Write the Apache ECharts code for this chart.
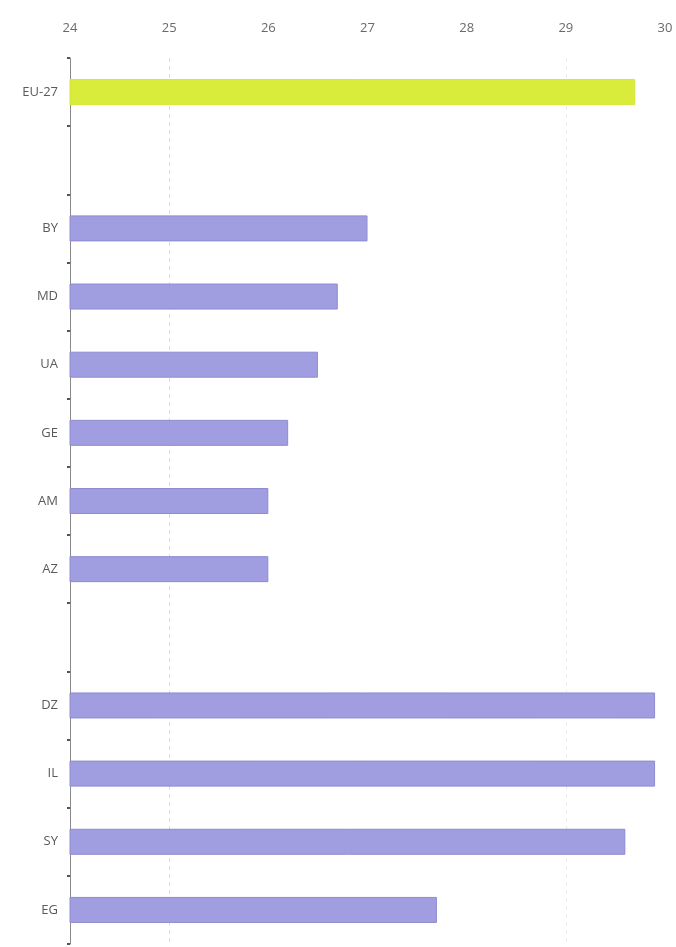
<!DOCTYPE html>
<html>
<head>
<meta charset="utf-8">
<script src="https://cdn.jsdelivr.net/npm/echarts@6/dist/echarts.min.js"></script>
<style>
html,body{margin:0;padding:0;background:#fff;}
#chart{width:676px;height:947px;}
</style>
</head>
<body>
<div id="chart"></div>
<script>
var categories = ['EU-27', '', 'BY', 'MD', 'UA', 'GE', 'AM', 'AZ', '', 'DZ', 'IL', 'SY', 'EG'];
var values = [29.7, null, 27.0, 26.7, 26.5, 26.2, 26.0, 26.0, null, 29.9, 29.9, 29.6, 27.7];
var highlight = ['EU-27'];
var xTicks = [24, 25, 26, 27, 28, 29, 30];

var chart = echarts.init(document.getElementById('chart'));
var data = values.map(function (v, i) {
  var isHi = highlight.indexOf(categories[i]) >= 0;
  return {
    value: v,
    itemStyle: {
      color: isHi ? '#d9ec3c' : '#a09ee0',
      borderColor: isHi ? '#d3e636' : '#8e8bd0',
      borderWidth: 1
    }
  };
});
chart.setOption({
  animation: false,
  backgroundColor: '#ffffff',
  grid: { left: 70, right: 11, top: 58, bottom: 3, containLabel: false },
  xAxis: {
    type: 'value',
    position: 'top',
    min: xTicks[0],
    max: xTicks[xTicks.length - 1],
    interval: 1,
    axisLine: { show: false },
    axisTick: { show: false },
    axisLabel: {
      margin: 23,
      color: '#6a6a6a',
      fontFamily: 'Open Sans',
      fontSize: 13,
      formatter: function (v) { return xTicks.indexOf(v) >= 0 ? String(v) : ''; }
    },
    splitLine: {
      show: true,
      lineStyle: {
        type: [4, 4],
        width: 1,
        color: ['rgba(0,0,0,0)', '#dcdcdc', 'rgba(0,0,0,0)', 'rgba(0,0,0,0)', 'rgba(0,0,0,0)', '#ececec', 'rgba(0,0,0,0)']
      }
    }
  },
  yAxis: {
    type: 'category',
    inverse: true,
    data: categories,
    axisLine: { show: true, lineStyle: { color: '#8a8a8a', width: 1 } },
    axisTick: { show: true, inside: false, length: 3, lineStyle: { color: '#555', width: 2 } },
    axisLabel: { color: '#5a5a5a', fontFamily: 'Open Sans', fontSize: 13, margin: 12 },
    splitLine: { show: false }
  },
  series: [{
    type: 'bar',
    data: data,
    barWidth: 26
  }]
});
</script>
</body>
</html>
